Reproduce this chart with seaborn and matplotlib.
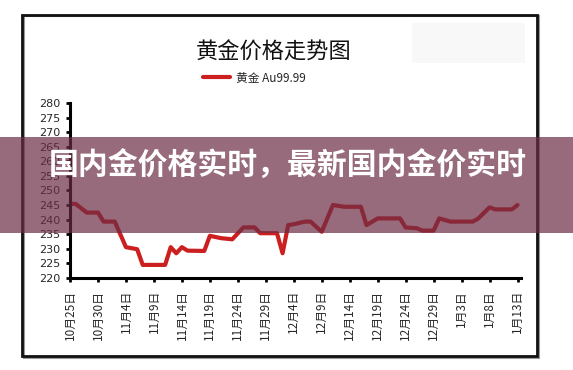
import matplotlib
matplotlib.use('Agg')
import matplotlib.pyplot as plt
import pandas as pd
import seaborn as sns
from matplotlib.patches import Rectangle

# data (date, price)
dates = ['2012-10-25', '2012-10-26', '2012-10-28', '2012-10-30', '2012-10-31',
         '2012-11-02', '2012-11-04', '2012-11-06', '2012-11-07', '2012-11-11',
         '2012-11-12', '2012-11-13', '2012-11-14', '2012-11-15', '2012-11-18',
         '2012-11-19', '2012-11-21', '2012-11-23', '2012-11-25', '2012-11-27',
         '2012-11-28', '2012-12-01', '2012-12-02', '2012-12-03', '2012-12-04',
         '2012-12-06', '2012-12-07', '2012-12-09', '2012-12-11', '2012-12-13',
         '2012-12-16', '2012-12-17', '2012-12-19', '2012-12-23', '2012-12-24',
         '2012-12-26', '2012-12-27', '2012-12-29', '2012-12-30', '2013-01-01',
         '2013-01-05', '2013-01-06', '2013-01-08', '2013-01-09', '2013-01-12',
         '2013-01-13']
prices = [245.4, 245.4, 242.4, 242.4, 239.3,
          239.3, 230.5, 229.8, 224.4, 224.4,
          230.5, 228.4, 230.5, 229.3, 229.2,
          234.4, 233.6, 233.2, 237.3, 237.3,
          235.3, 235.3, 228.4, 238.1, 238.4,
          239.3, 239.3, 235.8, 245.0, 244.4,
          244.4, 238.1, 240.4, 240.4, 237.3,
          237.0, 236.2, 236.2, 240.4, 239.3,
          239.3, 240.4, 244.2, 243.5, 243.5,
          245.0]

tick_labels = ['10月25日', '10月30日', '11月4日', '11月9日', '11月14日', '11月19日',
               '11月24日', '11月29日', '12月4日', '12月9日', '12月14日', '12月19日',
               '12月24日', '12月29日', '1月3日', '1月8日', '1月13日']
y_ticks = list(range(220, 281, 5))

start = pd.Timestamp('2012-10-25')
df = pd.DataFrame({'date': pd.to_datetime(dates), 'price': prices})
df['day'] = (df['date'] - start).dt.days

sns.set_style('white')
plt.rcParams['font.family'] = ['Noto Sans CJK SC', 'DejaVu Sans']

fig = plt.figure(figsize=(5.73, 3.7), dpi=100)
ax = fig.add_axes([0.1222, 0.2495, 0.7868, 0.4713])

sns.lineplot(data=df, x='day', y='price', ax=ax, color='#cc1f1f', lw=3,
             label='黄金 Au99.99', legend=False)

ax.set_xlim(0, 80.6)
ax.set_ylim(220, 280)
ax.set_xticks(range(0, 81, 5))
ax.set_xticklabels(tick_labels, rotation=90, fontsize=8.5)
ax.set_yticks(y_ticks)
ax.set_yticklabels([str(v) for v in y_ticks], fontsize=8, family='DejaVu Sans')
ax.set_xlabel('')
ax.set_ylabel('')
for s in ['top', 'right']:
    ax.spines[s].set_visible(False)
for s in ['left', 'bottom']:
    ax.spines[s].set_linewidth(2.2)
    ax.spines[s].set_color('black')
ax.tick_params(axis='both', direction='out', length=3, width=2, color='black',
               pad=4, left=True, bottom=True)
ax.tick_params(axis='x', pad=6)

handles, labels = ax.get_legend_handles_labels()
fig.legend(handles, labels, loc='center', bbox_to_anchor=(254 / 573, 1 - 78 / 370),
           bbox_transform=fig.transFigure, frameon=False,
           fontsize=8.5, handlelength=2.3, handletextpad=0.5)

fig.text(0.477, 0.86, '黄金价格走势图', ha='center', va='center', fontsize=16,
         color='#111111')

# outer frame with light shadow
fig.patches.append(Rectangle((24 / 573, 1 - 358 / 370), 515 / 573, 342 / 370,
                             transform=fig.transFigure, fill=False,
                             edgecolor='#999999', lw=1.5))
fig.patches.append(Rectangle((22 / 573, 1 - 356 / 370), 515 / 573, 341 / 370,
                             transform=fig.transFigure, fill=False,
                             edgecolor='#111111', lw=2))
fig.patches.append(Rectangle((412 / 573, 1 - 63 / 370), 113 / 573, 40 / 370,
                             transform=fig.transFigure, color='#f8f8f8', lw=0,
                             zorder=-1))

# banner overlay
fig.patches.append(Rectangle((0, 1 - 233 / 370), 1, 96 / 370,
                             transform=fig.transFigure, color='#6b2c45',
                             alpha=0.7, lw=0, zorder=10))
fig.text(288 / 573, 1 - 166 / 370, '国内金价格实时，最新国内金价实时',
         ha='center', va='center', fontsize=21.5, fontweight='bold',
         color='white', zorder=11)

fig.savefig('out.png', dpi=100)
